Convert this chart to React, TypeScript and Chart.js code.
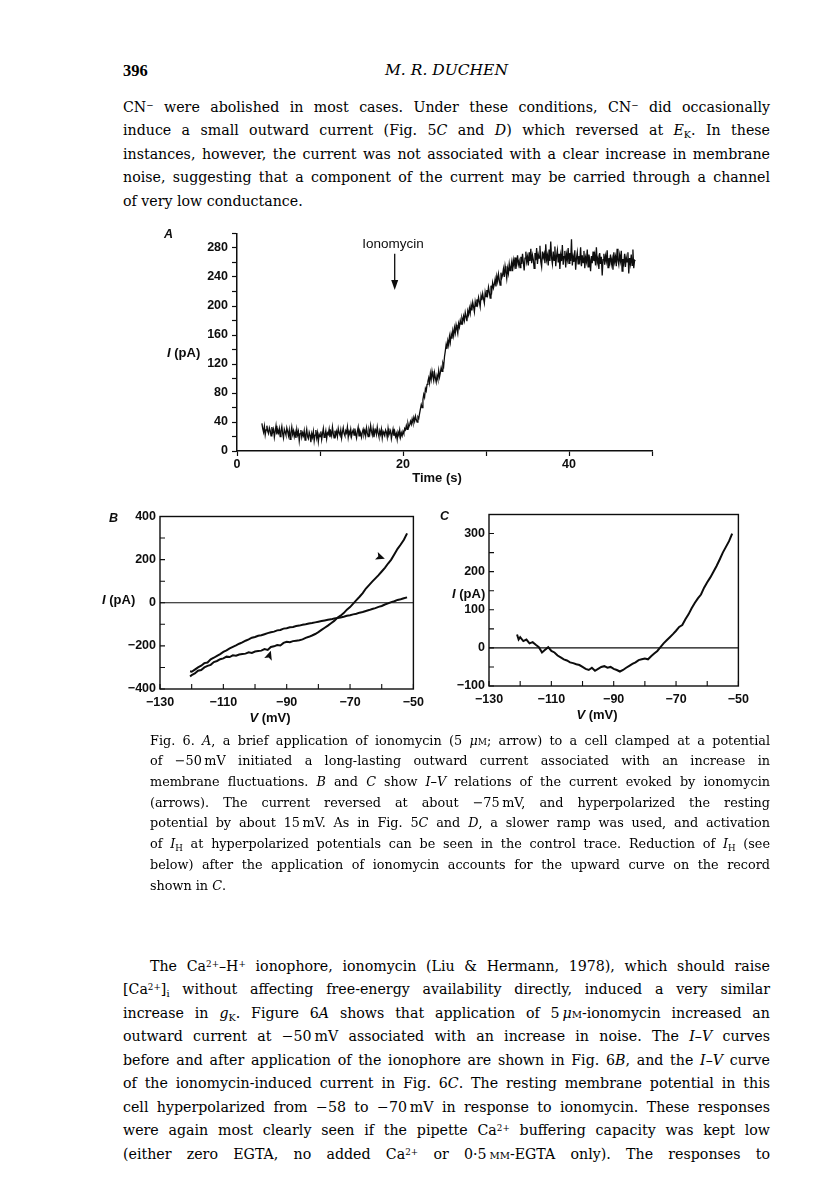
import React, { useEffect, useRef } from 'react';
import { Chart, registerables } from 'chart.js';

Chart.register(...registerables);

// ---------------- Data ----------------
// Panel A: holding current at -50 mV, sampled every 0.1 s from t = 3 s
const TRACE_A_START_S = 3;
const TRACE_A_STEP_S = 0.1;
const traceA_pA = [
  38, 31, 26, 34, 22, 29, 35, 27, 24, 32,
  28, 21, 33, 26, 30, 19, 27, 35, 23, 29,
  25, 31, 20, 28, 34, 24, 18, 30, 26, 22,
  32, 27, 21, 29, 16, 25, 33, 23, 28, 20,
  26, 18, 30, 22, 27, 14, 24, 29, 19, 25,
  21, 28, 15, 23, 30, 20, 17, 26, 22, 12,
  24, 19, 27, 14, 22, 29, 18, 25, 13, 23,
  20, 27, 16, 24, 31, 19, 22, 28, 17, 25,
  23, 30, 19, 26, 21, 33, 24, 18, 28, 22,
  27, 20, 31, 25, 22, 29, 18, 26, 32, 24,
  21, 28, 25, 33, 19, 27, 23, 30, 20, 26,
  29, 22, 31, 24, 18, 27, 33, 21, 28, 25,
  19, 26, 30, 23, 28, 21, 32, 25, 20, 29,
  24, 35, 27, 22, 31, 19, 26, 29, 23, 33,
  25, 20, 28, 23, 30, 18, 27, 24, 21, 29,
  26, 19, 31, 22, 25, 28, 17, 24, 30, 21,
  27, 20, 24, 16, 26, 22, 29, 19, 25, 21,
  27, 24, 31, 29, 35, 30, 38, 33, 36, 41,
  37, 44, 39, 46, 41, 48, 43, 40, 47, 45,
  52, 58, 64, 60, 71, 78, 74, 86, 83, 92,
  96, 101, 94, 107, 99, 110, 103, 97, 108, 101,
  95, 104, 99, 111, 102, 108, 115, 110, 121, 117,
  130, 138, 147, 141, 152, 146, 158, 150, 161, 155,
  166, 159, 170, 163, 174, 168, 162, 176, 171, 180,
  175, 183, 178, 186, 180, 191, 185, 179, 193, 188,
  197, 190, 201, 194, 205, 199, 192, 206, 200, 209,
  203, 212, 206, 199, 214, 208, 217, 210, 204, 219,
  213, 222, 216, 226, 219, 211, 228, 221, 232, 225,
  230, 237, 227, 241, 234, 244, 236, 229, 246, 239,
  243, 251, 240, 255, 247, 238, 252, 245, 258, 249,
  254, 261, 248, 263, 256, 267, 251, 259, 270, 257,
  262, 253, 268, 258, 272, 260, 249, 266, 275, 261,
  268, 256, 274, 262, 279, 259, 270, 264, 252, 273,
  263, 280, 258, 271, 266, 283, 261, 254, 275, 267,
  272, 259, 285, 264, 270, 256, 278, 262, 289, 266,
  258, 275, 263, 282, 255, 269, 277, 260, 272, 251,
  270, 262, 284, 257, 268, 276, 253, 271, 264, 280,
  259, 273, 262, 292, 256, 268, 261, 277, 250, 266,
  274, 258, 269, 263, 281, 255, 270, 260, 276, 252,
  267, 261, 278, 254, 271, 264, 248, 269, 259, 275,
  262, 270, 256, 281, 260, 266, 251, 273, 258, 268,
  242, 264, 272, 257, 269, 262, 277, 253, 266, 260,
  271, 258, 265, 250, 274, 261, 268, 255, 279, 263,
  257, 270, 262, 276, 248, 265, 259, 272, 254, 267,
  261, 274, 245, 266, 258, 271, 256, 278, 252, 263,
  262,
];
const IONOMYCIN_T_S = 19;
const IONOMYCIN_ARROW_TOP_PA = 272;
const IONOMYCIN_ARROW_TIP_PA = 222;

// Panel B: I-V relations, control and in ionomycin
const ivB_mV = [
  -120.5, -120, -119, -118, -117, -116, -115, -114, -113, -112,
  -111, -110, -109, -108, -107, -106, -105, -104, -103, -102,
  -101, -100, -99, -98, -97, -96, -95, -94, -93, -92,
  -91, -90, -89, -88, -87, -86, -85, -84, -83, -82,
  -81, -80, -79, -78, -77, -76, -75, -74, -73, -72,
  -71, -70, -69, -68, -67, -66, -65, -64, -63, -62,
  -61, -60, -59, -58, -57, -56, -55, -54, -53, -52,
];
const ivB_control_pA = [
  -318, -320, -310, -300, -292, -280, -277, -262, -255, -246,
  -238, -228, -221, -212, -205, -198, -190, -184, -176, -170,
  -162, -159, -153, -151, -146, -141, -137, -134, -128, -126,
  -120, -118, -114, -112, -108, -106, -102, -100, -96, -94,
  -91, -88, -85, -82, -79, -77, -73, -71, -68, -65,
  -60, -58, -54, -51, -46, -43, -38, -34, -29, -25,
  -19, -15, -8, -3, 3, 7, 13, 16, 21, 25,
];
const ivB_ionomycin_pA = [
  -342, -335, -328, -315, -312, -300, -293, -288, -275, -270,
  -262, -258, -250, -252, -244, -246, -240, -238, -236, -230,
  -233, -226, -224, -222, -215, -219, -205, -202, -196, -198,
  -186, -181, -183, -178, -176, -174, -170, -163, -158, -152,
  -145, -136, -126, -116, -106, -95, -84, -70, -60, -48,
  -32, -20, -4, 12, 28, 45, 66, 82, 98, 113,
  128, 145, 162, 182, 200, 225, 250, 270, 292, 322,
];
// arrowheads marking the ionomycin trace (centre in data units, direction in radians)
const B_ARROW_V = [-60.5, -95.5];
const B_ARROW_I = [212, -245];
const B_ARROW_DIR = [0.35, -1.25];

// Panel C: I-V relation of the ionomycin-induced current
const ivC_mV = [
  -121, -120.5, -120, -119, -118, -117, -116, -115, -114, -113,
  -112, -111, -110, -109, -108, -107, -106, -105, -104, -103,
  -102, -101, -100, -99, -98, -97, -96, -95, -94, -93,
  -92, -91, -90, -89, -88, -87, -86, -85, -84, -83,
  -82, -81, -80, -79, -78, -77, -76, -75, -74, -73,
  -72, -71, -70, -69, -68, -67, -66, -65, -64, -63,
  -62, -61, -60, -59, -58, -57, -56, -55, -54, -53, -52,
];
const ivC_pA = [
  35, 22, 28, 18, 22, 12, 15, 8, 2, -12,
  -5, 2, -8, -12, -20, -25, -30, -33, -38, -40,
  -43, -45, -50, -55, -58, -52, -60, -55, -50, -48,
  -52, -50, -55, -58, -62, -58, -52, -47, -42, -38,
  -32, -30, -28, -30, -22, -15, -8, 2, 12, 20,
  28, 36, 45, 55, 60, 75, 88, 104, 118, 130,
  140, 158, 172, 185, 200, 215, 232, 250, 265, 280, 300,
];

// Tick labels
const A_X_TICK_LABELS = [0, 20, 40];
const A_Y_TICK_LABELS = [0, 40, 80, 120, 160, 200, 240, 280];
const B_X_TICK_LABELS = [-130, -110, -90, -70, -50];
const B_Y_TICK_LABELS = [-400, -200, 0, 200, 400];
const C_X_TICK_LABELS = [-130, -110, -90, -70, -50];
const C_Y_TICK_LABELS = [-100, 0, 100, 200, 300];

// ---------------- Styling helpers ----------------
const INK = '#0d0d0d';
const SERIF = '"DejaVu Serif", "Liberation Serif", serif';
const SANS = '"Liberation Sans", Arial, Helvetica, sans-serif';
const TICK_FONT = { family: SANS, size: 12.5, weight: 'bold' as const };

const fmt = (v: number) => (v < 0 ? '\u2212' + Math.abs(v) : String(v));
const labelIf = (list: number[]) => (v: any) => {
  const n = Math.round(Number(v) * 1000) / 1000;
  return list.includes(n) ? fmt(n) : '';
};

const arrowPluginA = {
  id: 'ionoArrow',
  afterDatasetsDraw(chart: any) {
    const { ctx, scales } = chart;
    const x = scales.x.getPixelForValue(IONOMYCIN_T_S);
    const y1 = scales.y.getPixelForValue(IONOMYCIN_ARROW_TOP_PA);
    const y2 = scales.y.getPixelForValue(IONOMYCIN_ARROW_TIP_PA);
    ctx.save();
    ctx.strokeStyle = INK;
    ctx.fillStyle = INK;
    ctx.lineWidth = 1.3;
    ctx.beginPath();
    ctx.moveTo(x, y1);
    ctx.lineTo(x, y2 - 8);
    ctx.stroke();
    ctx.beginPath();
    ctx.moveTo(x - 3.5, y2 - 10);
    ctx.lineTo(x + 3.5, y2 - 10);
    ctx.lineTo(x, y2);
    ctx.closePath();
    ctx.fill();
    ctx.restore();
  },
};

const frameInnerTicksPlugin = {
  id: 'frameInnerTicks',
  beforeDatasetsDraw(chart: any) {
    const { ctx, chartArea: a, scales } = chart;
    const y0 = scales.y.getPixelForValue(0);
    ctx.save();
    ctx.strokeStyle = INK;
    ctx.lineWidth = 1.1;
    ctx.beginPath();
    ctx.moveTo(a.left, y0);
    ctx.lineTo(a.right, y0);
    ctx.stroke();
    ctx.restore();
  },
  afterDatasetsDraw(chart: any) {
    const { ctx, chartArea: a, scales } = chart;
    ctx.save();
    ctx.strokeStyle = INK;
    ctx.lineWidth = 1.4;
    ctx.strokeRect(a.left, a.top, a.right - a.left, a.bottom - a.top);
    ctx.lineWidth = 1.1;
    ctx.beginPath();
    scales.x.ticks.forEach((t: any) => {
      const x = scales.x.getPixelForValue(t.value);
      ctx.moveTo(x, a.bottom);
      ctx.lineTo(x, a.bottom - 5);
    });
    scales.y.ticks.forEach((t: any) => {
      const y = scales.y.getPixelForValue(t.value);
      ctx.moveTo(a.left, y);
      ctx.lineTo(a.left + 5, y);
    });
    ctx.stroke();
    ctx.restore();
  },
};

const arrowHeadsPluginB = {
  id: 'arrowHeadsB',
  afterDatasetsDraw(chart: any) {
    const { ctx, scales } = chart;
    ctx.save();
    ctx.fillStyle = INK;
    B_ARROW_V.forEach((v, i) => {
      const cx = scales.x.getPixelForValue(v);
      const cy = scales.y.getPixelForValue(B_ARROW_I[i]);
      const d = B_ARROW_DIR[i];
      const ux = Math.cos(d), uy = Math.sin(d);
      const px = -uy, py = ux;
      ctx.beginPath();
      ctx.moveTo(cx + ux * 5, cy + uy * 5);
      ctx.lineTo(cx - ux * 4 + px * 4, cy - uy * 4 + py * 4);
      ctx.lineTo(cx - ux * 2, cy - uy * 2);
      ctx.lineTo(cx - ux * 4 - px * 4, cy - uy * 4 - py * 4);
      ctx.closePath();
      ctx.fill();
    });
    ctx.restore();
  },
};

const baseOptions = (padding: any) => ({
  animation: false as const,
  responsive: false,
  maintainAspectRatio: false,
  events: [] as any[],
  layout: { padding },
  plugins: { legend: { display: false }, tooltip: { enabled: false } },
});

function buildA(): any {
  return {
    type: 'line',
    data: {
      datasets: [
        {
          data: traceA_pA.map((pA, i) => ({ x: TRACE_A_START_S + i * TRACE_A_STEP_S, y: pA })),
          borderColor: INK,
          borderWidth: 1.3,
          pointRadius: 0,
          tension: 0,
        },
      ],
    },
    options: {
      ...baseOptions({ top: 10, right: 18, left: 0, bottom: 0 }),
      scales: {
        x: {
          type: 'linear',
          min: 0,
          max: 50,
          afterFit: (s: any) => { s.height = 43; },
          ticks: { stepSize: 10, autoSkip: false, maxRotation: 0, padding: 1, color: INK, font: TICK_FONT, callback: labelIf(A_X_TICK_LABELS) },
          grid: { drawOnChartArea: false, drawTicks: true, tickLength: 5, tickColor: INK, tickWidth: 1.2 },
          border: { display: true, color: INK, width: 1.5 },
        },
        y: {
          type: 'linear',
          min: 0,
          max: 300,
          afterFit: (s: any) => { s.width = 87; },
          ticks: { stepSize: 20, autoSkip: false, padding: 4, color: INK, font: TICK_FONT, callback: labelIf(A_Y_TICK_LABELS) },
          grid: { drawOnChartArea: false, drawTicks: true, tickLength: 5, tickColor: INK, tickWidth: 1.2 },
          border: { display: true, color: INK, width: 1.5 },
        },
      },
    },
    plugins: [arrowPluginA],
  };
}

function ivScales(xLabels: number[], yMin: number, yMax: number, yStep: number, yLabels: number[], yWidth: number, xHeight: number) {
  return {
    x: {
      type: 'linear',
      min: -130,
      max: -50,
      afterFit: (s: any) => { s.height = xHeight; },
      ticks: { stepSize: 10, autoSkip: false, maxRotation: 0, padding: 6, color: INK, font: TICK_FONT, callback: labelIf(xLabels) },
      grid: { drawOnChartArea: false, drawTicks: false },
      border: { display: false },
    },
    y: {
      type: 'linear',
      min: yMin,
      max: yMax,
      afterFit: (s: any) => { s.width = yWidth; },
      ticks: { stepSize: yStep, autoSkip: false, padding: 4, color: INK, font: TICK_FONT, callback: labelIf(yLabels) },
      grid: { drawOnChartArea: false, drawTicks: false },
      border: { display: false },
    },
  };
}

function buildB(): any {
  return {
    type: 'line',
    data: {
      datasets: [
        {
          data: ivB_mV.map((v, i) => ({ x: v, y: ivB_control_pA[i] })),
          borderColor: INK,
          borderWidth: 2,
          pointRadius: 0,
          tension: 0,
        },
        {
          data: ivB_mV.map((v, i) => ({ x: v, y: ivB_ionomycin_pA[i] })),
          borderColor: INK,
          borderWidth: 2,
          pointRadius: 0,
          tension: 0,
        },
      ],
    },
    options: {
      ...baseOptions({ top: 10, right: 15, left: 0, bottom: 0 }),
      scales: ivScales(B_X_TICK_LABELS, -400, 400, 100, B_Y_TICK_LABELS, 60, 31),
    },
    plugins: [frameInnerTicksPlugin, arrowHeadsPluginB],
  };
}

function buildC(): any {
  return {
    type: 'line',
    data: {
      datasets: [
        {
          data: ivC_mV.map((v, i) => ({ x: v, y: ivC_pA[i] })),
          borderColor: INK,
          borderWidth: 2,
          pointRadius: 0,
          tension: 0,
        },
      ],
    },
    options: {
      ...baseOptions({ top: 10, right: 14, left: 0, bottom: 0 }),
      scales: ivScales(C_X_TICK_LABELS, -100, 350, 50, C_Y_TICK_LABELS, 64, 32),
    },
    plugins: [frameInnerTicksPlugin],
  };
}

function ChartBox({ left, top, width, height, build }: { left: number; top: number; width: number; height: number; build: () => any }) {
  const ref = useRef<HTMLCanvasElement | null>(null);
  useEffect(() => {
    if (!ref.current) return;
    const chart = new Chart(ref.current, build());
    return () => chart.destroy();
  }, []);
  return (
    <canvas
      ref={ref}
      width={width}
      height={height}
      style={{ position: 'absolute', left, top, width, height }}
    />
  );
}

// ---------------- Text helpers ----------------
function Line({ x, y, w, size, justify = true, children, style }: any) {
  return (
    <div
      style={{
        position: 'absolute',
        left: x,
        top: y - size * 0.5,
        width: w,
        fontFamily: SERIF,
        fontSize: size,
        lineHeight: `${size}px`,
        whiteSpace: 'nowrap',
        textAlign: justify ? 'justify' : 'left',
        textAlignLast: justify ? 'justify' : 'left',
        color: '#000',
        ...style,
      }}
    >
      {children}
    </div>
  );
}

const Sup = ({ children }: any) => (
  <sup style={{ fontSize: '0.62em', lineHeight: 0, verticalAlign: '0.5em' }}>{children}</sup>
);
const Sub = ({ children }: any) => (
  <sub style={{ fontSize: '0.68em', lineHeight: 0, verticalAlign: '-0.3em' }}>{children}</sub>
);
const SC = ({ children }: any) => <span style={{ fontVariant: 'small-caps' }}>{children}</span>;
const uM = (
  <>
    <i>μ</i>
    <SC>m</SC>
  </>
);

function Label({ x, y, children, size = 13, bold = true, italic = false, center = false }: any) {
  return (
    <div
      style={{
        position: 'absolute',
        left: x,
        top: y - size * 0.55,
        fontFamily: SANS,
        fontSize: size,
        lineHeight: `${size}px`,
        fontWeight: bold ? 700 : 400,
        fontStyle: italic ? 'italic' : 'normal',
        whiteSpace: 'nowrap',
        transform: center ? 'translateX(-50%)' : undefined,
        color: INK,
      }}
    >
      {children}
    </div>
  );
}

const BODY_X = 123;
const BODY_W = 647;
const BODY_SIZE = 14.2;
const BODY_LEAD = 23.5;
const CAP_X = 150;
const CAP_W = 620;
const CAP_SIZE = 12.8;
const CAP_LEAD = 20.7;
const INDENT = 27;

export default function App() {
  const p1y = 107;
  const capY = 741;
  const p2y = 966;
  return (
    <div
      style={{
        position: 'absolute',
        left: 0,
        top: 0,
        width: 816,
        height: 1191,
        background: '#ffffff',
        overflow: 'hidden',
      }}
    >
      {/* running head */}
      <Line x={BODY_X} y={71} w={80} size={16.5} justify={false} style={{ fontWeight: 700, fontFamily: '"Liberation Serif", serif' }}>
        396
      </Line>
      <Line x={BODY_X} y={71} w={BODY_W} size={15.5} justify={false} style={{ textAlign: 'center', textAlignLast: 'center', fontStyle: 'italic' }}>
        M. R. DUCHEN
      </Line>

      {/* paragraph 1 */}
      <Line x={BODY_X} y={p1y} w={BODY_W} size={BODY_SIZE}>
        CN<Sup>−</Sup> were abolished in most cases. Under these conditions, CN<Sup>−</Sup> did occasionally
      </Line>
      <Line x={BODY_X} y={p1y + BODY_LEAD} w={BODY_W} size={BODY_SIZE}>
        induce a small outward current (Fig. 5<i>C</i> and <i>D</i>) which reversed at <i>E</i>
        <Sub>K</Sub>. In these
      </Line>
      <Line x={BODY_X} y={p1y + BODY_LEAD * 2} w={BODY_W} size={BODY_SIZE}>
        instances, however, the current was not associated with a clear increase in membrane
      </Line>
      <Line x={BODY_X} y={p1y + BODY_LEAD * 3} w={BODY_W} size={BODY_SIZE}>
        noise, suggesting that a component of the current may be carried through a channel
      </Line>
      <Line x={BODY_X} y={p1y + BODY_LEAD * 4} w={BODY_W} size={BODY_SIZE} justify={false}>
        of very low conductance.
      </Line>

      {/* figure panels */}
      <ChartBox left={150} top={222} width={520} height={272} build={buildA} />
      <ChartBox left={100} top={505} width={330} height={215} build={buildB} />
      <ChartBox left={425} top={503} width={330} height={215} build={buildC} />

      {/* panel A labels */}
      <Label x={164} y={235} italic size={12.5}>A</Label>
      <Label x={393} y={244} bold={false} center size={13.5}>Ionomycin</Label>
      <Label x={167} y={353}>
        <i>I</i> (pA)
      </Label>
      <Label x={437} y={478} center>Time (s)</Label>

      {/* panel B labels */}
      <Label x={109} y={519} italic size={12.5}>B</Label>
      <Label x={102} y={600}>
        <i>I</i> (pA)
      </Label>
      <Label x={270} y={718} center>
        <i>V</i> (mV)
      </Label>

      {/* panel C labels */}
      <Label x={440} y={517} italic size={12.5}>C</Label>
      <Label x={452} y={594}>
        <i>I</i> (pA)
      </Label>
      <Label x={597} y={715} center>
        <i>V</i> (mV)
      </Label>

      {/* caption */}
      <Line x={CAP_X} y={capY} w={CAP_W} size={CAP_SIZE}>
        Fig. 6. <i>A</i>, a brief application of ionomycin (5 {uM}; arrow) to a cell clamped at a potential
      </Line>
      <Line x={CAP_X} y={capY + CAP_LEAD} w={CAP_W} size={CAP_SIZE}>
        of −50{'\u2009'}mV initiated a long-lasting outward current associated with an increase in
      </Line>
      <Line x={CAP_X} y={capY + CAP_LEAD * 2} w={CAP_W} size={CAP_SIZE}>
        membrane fluctuations. <i>B</i> and <i>C</i> show <i>I–V</i> relations of the current evoked by ionomycin
      </Line>
      <Line x={CAP_X} y={capY + CAP_LEAD * 3} w={CAP_W} size={CAP_SIZE}>
        (arrows). The current reversed at about −75{'\u2009'}mV, and hyperpolarized the resting
      </Line>
      <Line x={CAP_X} y={capY + CAP_LEAD * 4} w={CAP_W} size={CAP_SIZE}>
        potential by about 15{'\u2009'}mV. As in Fig. 5<i>C</i> and <i>D</i>, a slower ramp was used, and activation
      </Line>
      <Line x={CAP_X} y={capY + CAP_LEAD * 5} w={CAP_W} size={CAP_SIZE}>
        of <i>I</i>
        <Sub>H</Sub> at hyperpolarized potentials can be seen in the control trace. Reduction of <i>I</i>
        <Sub>H</Sub> (see
      </Line>
      <Line x={CAP_X} y={capY + CAP_LEAD * 6} w={CAP_W} size={CAP_SIZE}>
        below) after the application of ionomycin accounts for the upward curve on the record
      </Line>
      <Line x={CAP_X} y={capY + CAP_LEAD * 7} w={CAP_W} size={CAP_SIZE} justify={false}>
        shown in <i>C</i>.
      </Line>

      {/* paragraph 2 */}
      <Line x={BODY_X + INDENT} y={p2y} w={BODY_W - INDENT} size={BODY_SIZE}>
        The Ca<Sup>2+</Sup>–H<Sup>+</Sup> ionophore, ionomycin (Liu &amp; Hermann, 1978), which should raise
      </Line>
      <Line x={BODY_X} y={p2y + BODY_LEAD} w={BODY_W} size={BODY_SIZE}>
        [Ca<Sup>2+</Sup>]<Sub>i</Sub> without affecting free-energy availability directly, induced a very similar
      </Line>
      <Line x={BODY_X} y={p2y + BODY_LEAD * 2} w={BODY_W} size={BODY_SIZE}>
        increase in <i>g</i>
        <Sub>K</Sub>. Figure 6<i>A</i> shows that application of 5{'\u2009'}{uM}-ionomycin increased an
      </Line>
      <Line x={BODY_X} y={p2y + BODY_LEAD * 3} w={BODY_W} size={BODY_SIZE}>
        outward current at −50{'\u2009'}mV associated with an increase in noise. The <i>I–V</i> curves
      </Line>
      <Line x={BODY_X} y={p2y + BODY_LEAD * 4} w={BODY_W} size={BODY_SIZE}>
        before and after application of the ionophore are shown in Fig. 6<i>B</i>, and the <i>I–V</i> curve
      </Line>
      <Line x={BODY_X} y={p2y + BODY_LEAD * 5} w={BODY_W} size={BODY_SIZE}>
        of the ionomycin-induced current in Fig. 6<i>C</i>. The resting membrane potential in this
      </Line>
      <Line x={BODY_X} y={p2y + BODY_LEAD * 6} w={BODY_W} size={BODY_SIZE}>
        cell hyperpolarized from −58 to −70{'\u2009'}mV in response to ionomycin. These responses
      </Line>
      <Line x={BODY_X} y={p2y + BODY_LEAD * 7} w={BODY_W} size={BODY_SIZE}>
        were again most clearly seen if the pipette Ca<Sup>2+</Sup> buffering capacity was kept low
      </Line>
      <Line x={BODY_X} y={p2y + BODY_LEAD * 8} w={BODY_W} size={BODY_SIZE}>
        (either zero EGTA, no added Ca<Sup>2+</Sup> or 0·5{'\u2009'}<SC>mm</SC>-EGTA only). The responses to
      </Line>
    </div>
  );
}
